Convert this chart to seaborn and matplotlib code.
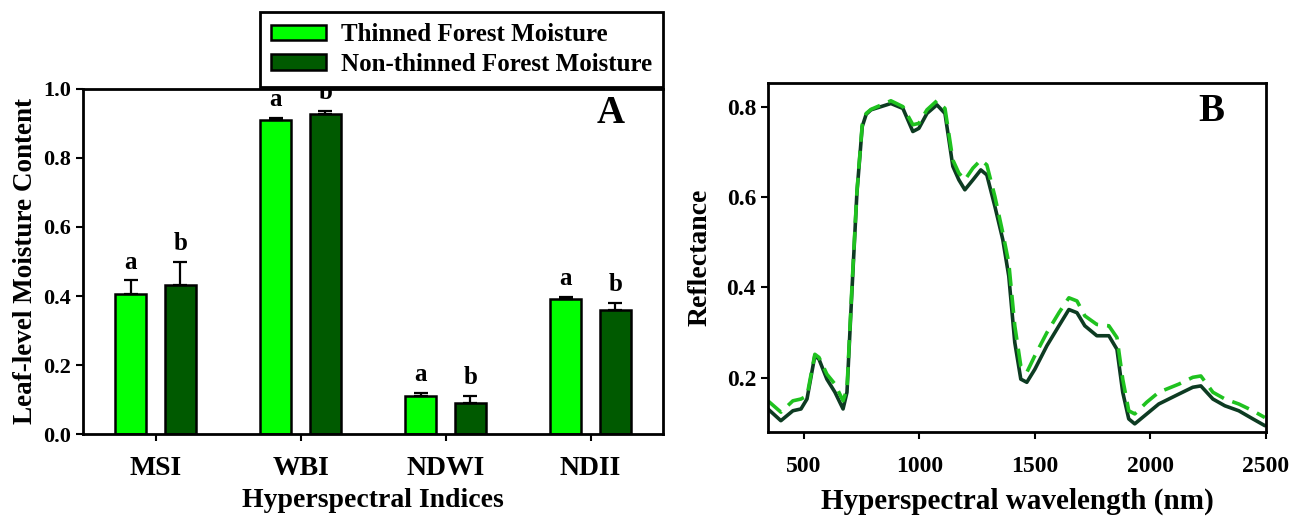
import numpy as np
import pandas as pd
import matplotlib
matplotlib.use("Agg")
import matplotlib.pyplot as plt
import seaborn as sns

# ---- data: panel A (bar chart) ----
indices = ["MSI", "WBI", "NDWI", "NDII"]
thinned = [0.405, 0.910, 0.110, 0.390]
thinned_err = [0.040, 0.007, 0.008, 0.007]
non_thinned = [0.433, 0.927, 0.090, 0.360]
non_thinned_err = [0.065, 0.008, 0.020, 0.020]
groups = ["Thinned Forest Moisture", "Non-thinned Forest Moisture"]

# ---- data: panel B (spectra) ----
wavelength = [345, 401, 453, 488, 514, 548, 566, 600, 635, 670, 687, 708, 730, 753,
              770, 791, 877, 929, 972, 998, 1033, 1076, 1111, 1145, 1171, 1197, 1232,
              1266, 1292, 1327, 1361, 1387, 1413, 1439, 1465, 1500, 1552, 1604,
              1647, 1682, 1716, 1768, 1820, 1855, 1880, 1906, 1932, 1984, 2036,
              2123, 2183, 2218, 2270, 2322, 2382, 2443, 2495]
refl_non_thinned = [0.131, 0.105, 0.127, 0.131, 0.153, 0.249, 0.241, 0.197, 0.168,
                    0.131, 0.168, 0.388, 0.609, 0.756, 0.783, 0.793, 0.807, 0.796,
                    0.745, 0.752, 0.785, 0.804, 0.785, 0.668, 0.638, 0.616, 0.638,
                    0.660, 0.649, 0.579, 0.506, 0.425, 0.278, 0.197, 0.190, 0.219,
                    0.271, 0.315, 0.351, 0.344, 0.315, 0.293, 0.293, 0.263, 0.168,
                    0.109, 0.098, 0.120, 0.142, 0.164, 0.179, 0.182, 0.153, 0.138,
                    0.127, 0.109, 0.094]
refl_thinned = [0.149, 0.124, 0.149, 0.153, 0.160, 0.252, 0.245, 0.208, 0.186,
                0.149, 0.175, 0.396, 0.612, 0.760, 0.785, 0.794, 0.813, 0.800,
                0.760, 0.763, 0.793, 0.813, 0.796, 0.682, 0.653, 0.638, 0.664,
                0.682, 0.671, 0.601, 0.521, 0.454, 0.315, 0.226, 0.212, 0.249,
                0.300, 0.344, 0.377, 0.370, 0.337, 0.318, 0.315, 0.289, 0.197,
                0.127, 0.120, 0.146, 0.168, 0.186, 0.201, 0.204, 0.168, 0.153,
                0.142, 0.127, 0.112]

sns.set_style("ticks")
plt.rcParams["font.family"] = ["Liberation Serif", "DejaVu Serif"]
plt.rcParams["font.weight"] = "bold"
plt.rcParams["axes.labelweight"] = "bold"
plt.rcParams["text.color"] = "black"
plt.rcParams["axes.labelcolor"] = "black"
plt.rcParams["xtick.color"] = "black"
plt.rcParams["ytick.color"] = "black"
plt.rcParams["axes.edgecolor"] = "black"

colors = ["#00ff00", "#005a00"]

df = pd.DataFrame({
    "Index": indices * 2,
    "Value": thinned + non_thinned,
    "Group": [groups[0]] * 4 + [groups[1]] * 4,
})

fig = plt.figure(figsize=(13.06, 5.23), dpi=100)
ax1 = fig.add_axes([0.0636, 0.170, 0.4441, 0.660])
ax2 = fig.add_axes([0.588, 0.174, 0.3814, 0.667])

# -------- Panel A --------
sns.barplot(data=df, x="Index", y="Value", hue="Group", palette=colors,
            saturation=1, width=0.68, gap=0.37, errorbar=None,
            edgecolor="black", linewidth=1.8, ax=ax1)

errs = [thinned_err, non_thinned_err]
vals = [thinned, non_thinned]
bar_groups = list(ax1.containers)
for k, cont in enumerate(bar_groups):
    xs = [p.get_x() + p.get_width() / 2 for p in cont.patches]
    ax1.errorbar(xs, vals[k], yerr=[np.zeros(4), errs[k]], fmt="none",
                 ecolor="black", elinewidth=1.6, capsize=5, capthick=1.6)
    letter = "a" if k == 0 else "b"
    for x, v, e in zip(xs, vals[k], errs[k]):
        ax1.text(x, v + e + 0.02, letter, ha="center", va="bottom",
                 fontsize=18, fontweight="bold", clip_on=False)

ax1.set_xlim(-0.5, 3.5)
ax1.set_ylim(0, 1.0)
ax1.set_yticks([0.0, 0.2, 0.4, 0.6, 0.8, 1.0])
ax1.set_yticklabels(["0.0", "0.2", "0.4", "0.6", "0.8", "1.0"])
ax1.set_xlabel("Hyperspectral Indices", fontsize=20, fontweight="bold", labelpad=5)
ax1.set_ylabel("Leaf-level Moisture Content", fontsize=19.5, fontweight="bold", labelpad=4)
ax1.tick_params(axis="y", labelsize=16, width=1.5, length=5)
ax1.tick_params(axis="x", labelsize=20, width=1.5, length=5, pad=11)
for lab in ax1.get_xticklabels() + ax1.get_yticklabels():
    lab.set_fontweight("bold")
for s in ax1.spines.values():
    s.set_linewidth(2)
    s.set_visible(True)
ax1.text(0.91, 0.93, "A", transform=ax1.transAxes, fontsize=28,
         fontweight="bold", ha="center", va="center")

leg = ax1.legend(loc="upper right", bbox_to_anchor=(0.508, 0.977),
                 bbox_transform=fig.transFigure, fontsize=18, frameon=True,
                 fancybox=False, edgecolor="black", handlelength=2.2,
                 handleheight=0.6, borderpad=0.45, labelspacing=0.25,
                 handletextpad=0.6, borderaxespad=0)
leg.get_frame().set_linewidth(2)
leg.get_frame().set_alpha(1)
for t in leg.get_texts():
    t.set_fontweight("bold")

# -------- Panel B --------
spec = pd.DataFrame({"wavelength": wavelength,
                     "non": refl_non_thinned, "thin": refl_thinned})
sns.lineplot(data=spec, x="wavelength", y="non", color="#0d3b22",
             linewidth=2.6, ax=ax2)
sns.lineplot(data=spec, x="wavelength", y="thin", color="#1fc21f",
             linewidth=2.6, linestyle=(0, (5, 2.5)), ax=ax2)

ax2.set_xlim(345, 2500)
ax2.set_ylim(0.08, 0.852)
ax2.set_xticks([500, 1000, 1500, 2000, 2500])
ax2.set_yticks([0.2, 0.4, 0.6, 0.8])
ax2.set_yticklabels(["0.2", "0.4", "0.6", "0.8"])
ax2.set_xlabel("Hyperspectral wavelength (nm)", fontsize=21, fontweight="bold", labelpad=8)
ax2.set_ylabel("Reflectance", fontsize=20, fontweight="bold", labelpad=10)
ax2.tick_params(axis="both", labelsize=17, width=1.5, length=5)
ax2.tick_params(axis="x", pad=12)
for lab in ax2.get_xticklabels() + ax2.get_yticklabels():
    lab.set_fontweight("bold")
for s in ax2.spines.values():
    s.set_linewidth(2)
    s.set_visible(True)
ax2.text(0.89, 0.92, "B", transform=ax2.transAxes, fontsize=28,
         fontweight="bold", ha="center", va="center")

fig.savefig("out.png", dpi=100)
